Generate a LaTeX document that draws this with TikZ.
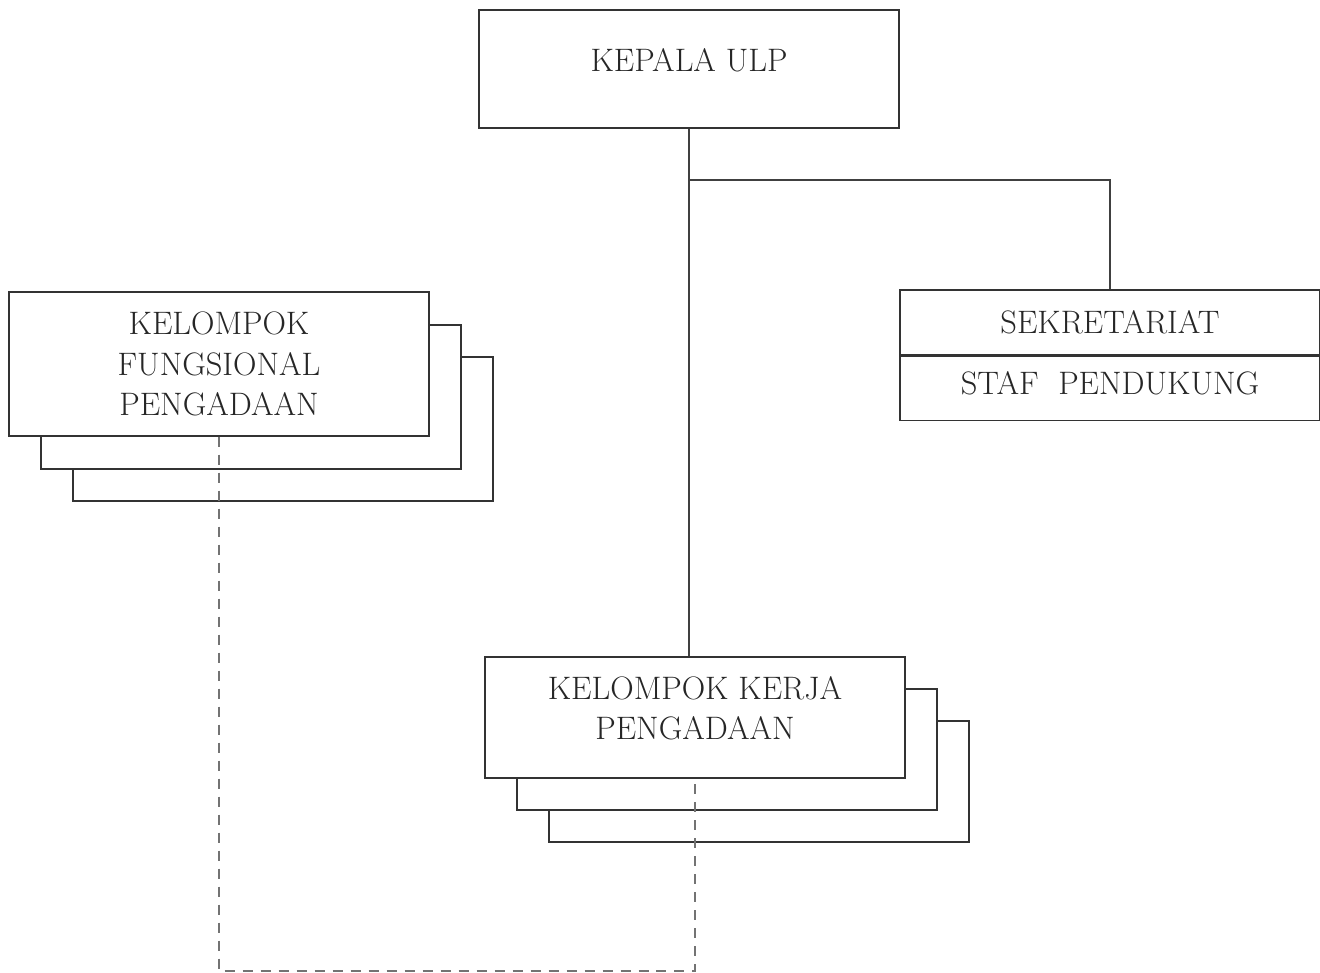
\documentclass[tikz,border=0pt]{standalone}
\usetikzlibrary{positioning}

\newcommand\orgfont{\fontsize{18.5}{23}\selectfont}

\tikzset{
    orgbox/.style={draw=black!80, line width=0.8pt, fill=white, inner sep=0pt,
        minimum width=8.4cm, align=center, font=\orgfont, text=black!85},
    orgline/.style={draw=black!75, line width=0.8pt},
    linkline/.style={draw=black!55, line width=0.6pt, dash pattern=on 0.2cm off 0.16cm},
}

\begin{document}
\begin{tikzpicture}[x=0.02cm,y=-0.02cm]
        \useasboundingbox (0,0) rectangle (1320,973);
        \node[orgbox, minimum height=2.36cm, text depth=0.36cm] (kepala) at (689,69) {KEPALA ULP};
        \node[orgbox, minimum height=1.3cm] (sek) at (1110,322.5) {SEKRETARIAT};
        \node[orgbox, minimum height=1.28cm, below=0pt of sek, text depth=0.2cm] (staf) {STAF~~PENDUKUNG};
        \node[orgbox, minimum height=2.88cm] (kfpc) at (283,429) {};
        \node[orgbox, minimum height=2.88cm] (kfpb) at (251,397) {};
        \node[orgbox, minimum height=2.88cm] (kfp) at (219,364) {KELOMPOK\\FUNGSIONAL\\PENGADAAN};
        \node[orgbox, minimum height=2.42cm] (kkpc) at (759,781.5) {};
        \node[orgbox, minimum height=2.42cm] (kkpb) at (727,749.5) {};
        \node[orgbox, minimum height=2.42cm, text depth=0.38cm] (kkp) at (695,717.5) {KELOMPOK KERJA\\PENGADAAN};
        \coordinate (br) at (689,180);
        \coordinate (bot) at (0,971);
        \draw[orgline] (kepala.south) -- (kepala.south |- kkp.north);
        \draw[orgline] (br) -| (sek.north);
        \draw[linkline] (kfp.south) -- (kfp.south |- bot) -- (kkp.south |- bot) -- (kkp.south);
    \end{tikzpicture}
\end{document}
